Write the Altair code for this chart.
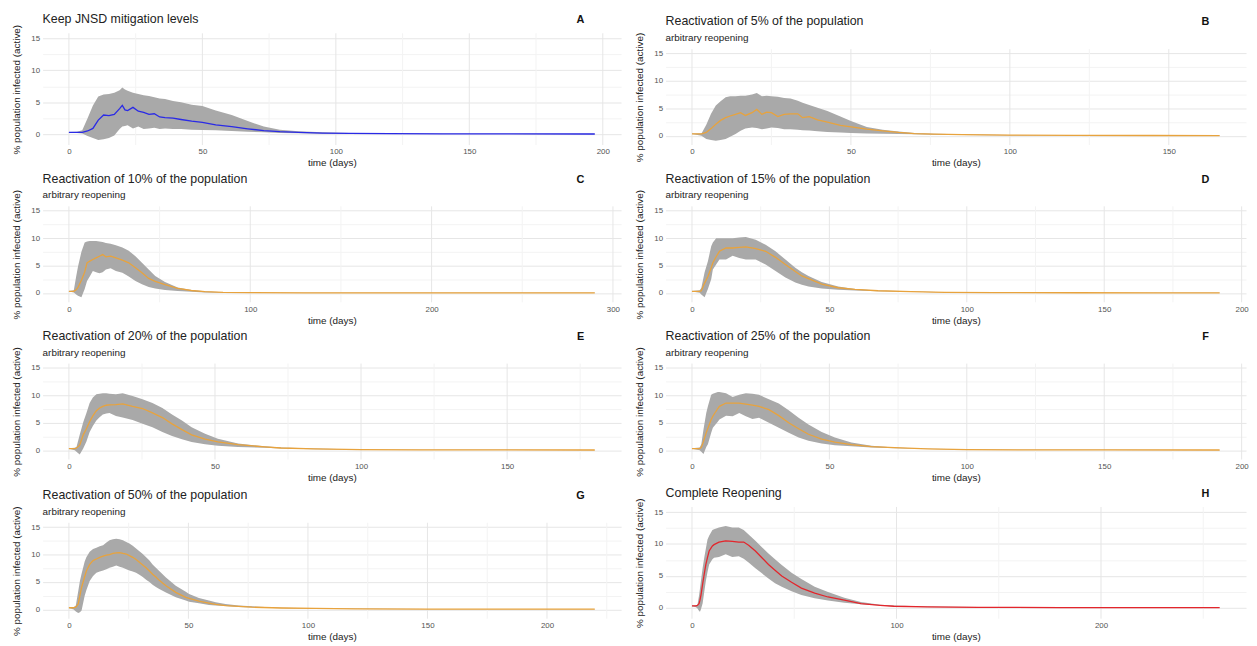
import altair as alt
import pandas as pd

# ---------------- data ----------------
# Panel A: Keep JNSD mitigation levels
a_t  = [0, 3, 5, 7, 9, 11, 13, 15, 17, 19, 20, 21, 22, 24, 26, 28, 30, 32, 34, 36, 39, 42, 46, 50, 55, 61, 67, 73, 79, 86, 95, 105, 120, 140, 170, 197]
a_lo = [0.25, 0.2, 0.1, -0.3, -0.6, -0.9, -0.8, -0.6, -0.2, 0.8, 1.2, 1.3, 1.4, 0.9, 1.2, 0.8, 0.9, 1.0, 0.8, 0.9, 0.8, 0.8, 0.7, 0.65, 0.6, 0.5, 0.4, 0.3, 0.2, 0.15, 0.08, 0.05, 0.03, 0.02, 0.01, 0.01]
a_m  = [0.3, 0.3, 0.3, 0.5, 0.9, 2.2, 3.0, 2.9, 3.1, 4.0, 4.5, 3.8, 3.7, 4.2, 3.6, 3.4, 3.1, 3.2, 2.7, 2.6, 2.5, 2.3, 2.05, 1.85, 1.45, 1.2, 0.85, 0.55, 0.4, 0.3, 0.18, 0.12, 0.08, 0.05, 0.04, 0.03]
a_hi = [0.35, 0.4, 0.6, 2.5, 4.5, 5.9, 6.2, 6.3, 6.5, 6.9, 7.3, 7.0, 6.8, 6.5, 6.3, 6.1, 6.0, 5.8, 5.6, 5.5, 5.2, 5.0, 4.6, 4.4, 3.7, 3.0, 2.05, 1.2, 0.7, 0.45, 0.3, 0.2, 0.12, 0.08, 0.06, 0.05]

# Panel B: 5%
b_t  = [0, 3, 4.5, 6, 7.5, 9, 10.6, 12, 13.7, 15.3, 16.8, 18.9, 20.4, 22, 23.5, 25, 27, 29, 31, 33.3, 34.8, 36.9, 39.5, 42.6, 46.7, 50, 55, 60, 65, 70, 76, 85, 100, 120, 145, 166]
b_lo = [0.3, 0.0, -0.6, -0.8, -0.9, -0.8, -0.6, -0.2, 0.3, 0.9, 1.3, 1.5, 1.4, 1.2, 1.3, 1.5, 1.4, 1.2, 1.2, 1.1, 1.0, 0.95, 0.8, 0.7, 0.6, 0.5, 0.4, 0.35, 0.3, 0.25, 0.18, 0.12, 0.06, 0.03, 0.02, 0.01]
b_m  = [0.35, 0.35, 0.6, 1.3, 2.1, 2.8, 3.3, 3.6, 3.9, 4.2, 3.7, 4.2, 4.8, 3.9, 4.3, 4.2, 3.5, 3.9, 4.0, 4.0, 3.3, 3.5, 2.9, 2.5, 1.9, 1.6, 1.2, 0.9, 0.6, 0.4, 0.3, 0.2, 0.1, 0.05, 0.04, 0.03]
b_hi = [0.4, 0.4, 2.0, 4.0, 5.5, 6.3, 7.0, 7.2, 7.2, 7.3, 7.3, 7.5, 7.8, 7.2, 7.3, 7.2, 7.1, 6.9, 6.8, 6.4, 6.0, 5.6, 5.1, 4.5, 3.5, 2.7, 1.6, 1.1, 0.75, 0.5, 0.35, 0.25, 0.14, 0.08, 0.06, 0.05]

# Panel C: 10%
c_t  = [0, 2.7, 4, 5, 6.9, 8.7, 10, 11.5, 13.2, 15, 16.8, 18.6, 20.4, 23, 25.9, 29.5, 33, 36.7, 40.3, 44, 47.6, 53, 60, 67.5, 75, 85, 100, 130, 180, 240, 290]
c_lo = [0.25, 0.1, -0.3, -0.5, -0.8, 0.7, 2.2, 3.0, 4.0, 3.8, 3.6, 3.8, 4.3, 4.5, 4.0, 3.7, 3.0, 2.2, 1.6, 1.1, 0.8, 0.55, 0.35, 0.2, 0.1, 0.05, 0.02, 0.01, 0.01, 0.0, 0.0]
c_m  = [0.3, 0.3, 0.6, 1.0, 2.3, 3.8, 5.5, 5.8, 6.1, 6.4, 6.7, 7.0, 6.6, 6.7, 6.4, 6.0, 5.5, 4.6, 3.7, 2.65, 2.1, 1.5, 0.85, 0.45, 0.25, 0.1, 0.05, 0.03, 0.02, 0.02, 0.01]
c_hi = [0.35, 0.5, 3.0, 4.8, 7.5, 9.2, 9.4, 9.5, 9.5, 9.5, 9.4, 9.3, 9.1, 9.0, 8.7, 8.3, 7.7, 6.7, 5.5, 4.3, 3.1, 2.0, 1.0, 0.55, 0.3, 0.15, 0.08, 0.05, 0.04, 0.03, 0.03]

# Panel D: 15%
d_t  = [0, 2.8, 3.4, 4.6, 5.8, 7, 7.6, 8.8, 10, 12.4, 14.8, 17.2, 19.6, 23.2, 26.8, 30.4, 34, 37.6, 40, 42.4, 47.2, 53.2, 59.3, 67.7, 79.7, 92, 110, 140, 170, 192]
d_lo = [0.25, 0.05, -0.3, -0.8, 0.7, 2.5, 4.3, 5.2, 6.1, 6.1, 6.8, 6.4, 6.1, 6.1, 5.2, 4.0, 2.8, 1.9, 1.5, 1.2, 0.8, 0.6, 0.45, 0.3, 0.2, 0.1, 0.04, 0.02, 0.01, 0.01]
d_m  = [0.3, 0.3, 0.4, 1.8, 3.0, 4.6, 5.5, 6.6, 7.6, 8.2, 8.2, 8.3, 8.4, 8.1, 7.6, 6.5, 5.2, 3.9, 3.1, 2.6, 1.6, 0.95, 0.65, 0.4, 0.25, 0.12, 0.06, 0.04, 0.03, 0.03]
d_hi = [0.35, 0.5, 0.9, 3.8, 5.8, 8.5, 9.2, 10.0, 10.0, 10.0, 10.0, 10.1, 10.2, 9.7, 8.8, 7.6, 6.1, 4.6, 3.8, 3.1, 2.0, 1.2, 0.7, 0.45, 0.3, 0.15, 0.09, 0.06, 0.05, 0.05]

# Panel E: 20%
e_t  = [0, 2, 2.6, 3.7, 4.9, 6, 7.1, 8.2, 9.4, 10.5, 11.6, 12.8, 13.9, 16.1, 18.4, 21.8, 25.2, 28.6, 32, 35.3, 38.7, 42, 46.6, 51, 57.9, 67, 72.6, 84, 100, 120, 150, 180]
e_lo = [0.25, 0.0, -0.3, -0.8, 0.3, 1.6, 3.3, 4.4, 5.4, 6.0, 6.5, 6.7, 6.8, 6.25, 5.95, 5.5, 4.8, 4.2, 3.3, 2.6, 2.0, 1.5, 1.1, 0.8, 0.6, 0.45, 0.3, 0.18, 0.06, 0.03, 0.02, 0.01]
e_m  = [0.3, 0.3, 0.4, 0.9, 2.8, 3.9, 5.2, 6.25, 7.2, 7.7, 8.0, 8.2, 8.25, 8.3, 8.45, 8.0, 7.6, 6.8, 5.95, 4.8, 3.75, 2.8, 2.0, 1.5, 1.0, 0.6, 0.4, 0.25, 0.1, 0.05, 0.04, 0.03]
e_hi = [0.35, 0.45, 0.6, 2.8, 5.1, 6.8, 8.6, 9.6, 10.2, 10.3, 10.4, 10.4, 10.3, 10.2, 10.4, 9.9, 9.3, 8.6, 7.7, 6.5, 5.4, 4.2, 3.0, 2.1, 1.2, 0.7, 0.5, 0.32, 0.14, 0.08, 0.06, 0.05]

# Panel F: 25%
f_t  = [0, 2.8, 3.4, 4.2, 5.2, 5.8, 7, 7.6, 9.4, 10, 12.4, 14.8, 17.2, 19.6, 22, 24.4, 28, 31.6, 35.2, 38.8, 42.4, 47.2, 52, 58, 65.3, 73.7, 85.7, 100, 120, 150, 192]
f_lo = [0.25, 0.0, -0.3, -0.7, 0.6, 1.1, 3.2, 4.1, 5.2, 5.6, 6.3, 6.2, 6.8, 6.2, 5.7, 5.9, 5.0, 4.1, 3.2, 2.3, 1.7, 1.2, 0.9, 0.7, 0.5, 0.35, 0.2, 0.08, 0.04, 0.02, 0.01]
f_m  = [0.3, 0.3, 0.5, 1.6, 3.2, 4.0, 5.6, 6.2, 7.6, 8.0, 8.6, 8.6, 8.6, 8.4, 8.2, 8.0, 7.4, 6.3, 5.0, 3.9, 2.9, 2.0, 1.45, 1.0, 0.65, 0.45, 0.25, 0.12, 0.06, 0.04, 0.03]
f_hi = [0.35, 0.5, 1.1, 3.8, 6.8, 8.0, 10.1, 10.3, 10.6, 10.6, 10.4, 9.7, 10.1, 10.4, 10.3, 10.1, 9.3, 8.5, 7.3, 5.9, 4.7, 3.3, 2.3, 1.4, 0.8, 0.5, 0.28, 0.15, 0.08, 0.06, 0.05]

# Panel G: 50%
g_t  = [0, 2, 2.9, 3.9, 4.6, 5.3, 6.6, 7.3, 8.7, 10.1, 11.5, 12.9, 14.3, 15.7, 17, 18.4, 19.8, 21.2, 22.6, 24, 25.3, 26.7, 28.1, 29.5, 30.9, 32.3, 33.7, 35, 36.4, 37.8, 40.6, 44.7, 48.9, 50.3, 54.4, 58.6, 61.4, 65.5, 71, 76.6, 89, 103, 120, 150, 185, 220]
g_lo = [0.25, 0.0, -0.4, -0.65, -0.5, -0.2, 2.5, 3.5, 5.2, 6.1, 6.7, 6.9, 7.1, 7.3, 7.6, 7.8, 8.0, 7.8, 7.6, 7.3, 7.1, 6.9, 6.7, 6.3, 5.9, 5.4, 5.0, 4.5, 4.1, 3.7, 3.1, 2.2, 1.6, 1.4, 1.1, 0.8, 0.7, 0.6, 0.45, 0.35, 0.2, 0.12, 0.06, 0.03, 0.02, 0.01]
g_m  = [0.3, 0.3, 0.4, 1.0, 2.5, 4.0, 6.0, 7.0, 8.2, 8.9, 9.2, 9.5, 9.7, 9.9, 10.0, 10.2, 10.3, 10.35, 10.2, 10.1, 9.8, 9.5, 9.1, 8.6, 8.1, 7.6, 7.0, 6.4, 5.9, 5.3, 4.3, 3.1, 2.2, 2.0, 1.5, 1.15, 0.9, 0.7, 0.55, 0.4, 0.25, 0.18, 0.1, 0.05, 0.04, 0.03]
g_hi = [0.35, 0.4, 0.7, 3.3, 5.2, 6.5, 8.75, 9.5, 10.5, 11.0, 11.25, 11.5, 11.7, 12.2, 12.6, 12.8, 12.9, 12.8, 12.6, 12.3, 12.0, 11.6, 11.1, 10.6, 10.1, 9.5, 8.9, 8.2, 7.6, 7.0, 5.8, 4.3, 3.2, 2.8, 2.1, 1.6, 1.3, 1.0, 0.7, 0.55, 0.32, 0.22, 0.14, 0.08, 0.06, 0.05]

# Panel H: complete reopening
h_t  = [0, 2, 2.7, 3.5, 3.9, 4.4, 5.2, 6, 6.8, 7.6, 8.4, 10, 10.8, 13.2, 16.5, 19.7, 22.9, 25.3, 27.7, 31, 34.2, 37.4, 40.6, 43.9, 48.7, 53.5, 60, 66.5, 74.5, 82.6, 92, 98.7, 115, 140, 180, 220, 258]
h_lo = [0.25, 0.1, -0.1, -0.5, -0.6, -0.2, 0.7, 2.5, 4.25, 5.6, 6.8, 7.6, 7.85, 7.95, 8.4, 7.95, 8.1, 7.7, 7.1, 6.2, 5.4, 4.6, 3.85, 3.3, 2.6, 2.0, 1.5, 1.15, 0.8, 0.55, 0.35, 0.2, 0.1, 0.05, 0.02, 0.02, 0.01]
h_m  = [0.3, 0.3, 0.4, 0.7, 1.2, 2.0, 3.7, 5.3, 6.8, 7.9, 8.9, 9.7, 9.9, 10.3, 10.5, 10.4, 10.3, 10.3, 9.8, 8.9, 7.85, 6.8, 5.9, 5.0, 4.0, 3.1, 2.3, 1.7, 1.2, 0.65, 0.4, 0.25, 0.15, 0.08, 0.05, 0.04, 0.03]
h_hi = [0.35, 0.4, 0.5, 2.0, 3.0, 4.25, 6.2, 7.85, 9.3, 10.7, 11.3, 12.2, 12.3, 12.6, 12.8, 12.6, 12.6, 12.2, 11.5, 10.5, 9.5, 8.5, 7.6, 6.7, 5.5, 4.5, 3.3, 2.5, 1.6, 0.9, 0.5, 0.35, 0.2, 0.12, 0.08, 0.07, 0.05]

titles = [
    "Keep JNSD mitigation levels",
    "Reactivation of 5% of the population",
    "Reactivation of 10% of the population",
    "Reactivation of 15% of the population",
    "Reactivation of 20% of the population",
    "Reactivation of 25% of the population",
    "Reactivation of 50% of the population",
    "Complete Reopening",
]
subtitles = ["", "arbitrary reopening", "arbitrary reopening", "arbitrary reopening",
             "arbitrary reopening", "arbitrary reopening", "arbitrary reopening", ""]
letters = ["A", "B", "C", "D", "E", "F", "G", "H"]
line_colors = ["#2a2ae6", "#e8a33d", "#e8a33d", "#e8a33d", "#e8a33d", "#e8a33d", "#e8a33d", "#e3262c"]
# x tick steps: (minor step, major step, max tick)
x_steps = [(25, 50, 200), (25, 50, 150), (50, 100, 300), (25, 50, 200),
           (25, 50, 175), (25, 50, 200), (25, 50, 225), (50, 100, 250)]
y_values = [0, 2.5, 5, 7.5, 10, 12.5, 15]

series = [
    (a_t, a_lo, a_m, a_hi), (b_t, b_lo, b_m, b_hi), (c_t, c_lo, c_m, c_hi), (d_t, d_lo, d_m, d_hi),
    (e_t, e_lo, e_m, e_hi), (f_t, f_lo, f_m, f_hi), (g_t, g_lo, g_m, g_hi), (h_t, h_lo, h_m, h_hi),
]

FONT = "Liberation Sans"
TXT = "#222222"
GRID_MAJOR, GRID_MINOR = "#e6e6e6", "#f3f3f3"
Y_DOMAIN = [-1.7, 15.8]
LEFT_W, RIGHT_W = 585, 587
PANEL_H = 113      # whole panel height
SUB_GAP = 16       # extra room taken by the subtitle above the plot


def panel(i):
    t, lo, m, hi = series[i]
    df = pd.DataFrame({"t": t, "lo": lo, "m": m, "hi": hi})
    tmax = max(t)
    xdom = [-0.05 * tmax, 1.05 * tmax]
    minor, major, top = x_steps[i]
    xvals = [v for v in range(0, top + 1, minor) if v <= xdom[1]]
    w = LEFT_W if i % 2 == 0 else RIGHT_W
    has_sub = subtitles[i] != ""
    y_top = SUB_GAP if has_sub else 0

    x_axis = alt.Axis(
        title="time (days)", values=xvals, tickCount=40, format="d",
        labelExpr=f"datum.value % {major} == 0 ? datum.label : ''",
        grid=False, domain=False, ticks=False, labelPadding=3, titlePadding=2, labelOverlap=False,
    )
    y_axis = alt.Axis(
        title="% population infected (active)", values=y_values, tickCount=40, format="~f",
        labelExpr="datum.value % 5 == 0 ? datum.label : ''",
        gridColor={"condition": {"test": "datum.value % 5 == 0", "value": GRID_MAJOR}, "value": GRID_MINOR},
        domain=False, ticks=False, labelPadding=3, titlePadding=9, labelOverlap=False,
    )
    xs = alt.Scale(domain=xdom, nice=False, zero=False)
    ys = alt.Scale(domain=Y_DOMAIN, nice=False, zero=False, range=[PANEL_H, y_top])

    # vertical grid lines, spanning the plotted y range only
    gdf = pd.DataFrame({
        "xg": xvals,
        "major": [v % major == 0 for v in xvals],
        "ylo": [Y_DOMAIN[0]] * len(xvals),
        "yhi": [Y_DOMAIN[1]] * len(xvals),
    })
    grid = alt.Chart(gdf).mark_rule(strokeWidth=1).encode(
        x=alt.X("xg:Q", scale=xs, axis=x_axis),
        y=alt.Y("ylo:Q", scale=ys, axis=y_axis),
        y2="yhi:Q",
        color=alt.Color("major:N", scale=alt.Scale(domain=[True, False], range=[GRID_MAJOR, GRID_MINOR]), legend=None),
    )

    base = alt.Chart(df)
    band = base.mark_area(color="#a9a9a9", opacity=1).encode(
        x=alt.X("t:Q", scale=xs, axis=x_axis),
        y=alt.Y("lo:Q", scale=ys, axis=y_axis),
        y2="hi:Q",
    )
    line = base.mark_line(color=line_colors[i], strokeWidth=1.3).encode(
        x=alt.X("t:Q", scale=xs, axis=x_axis), y=alt.Y("m:Q", scale=ys, axis=y_axis)
    )
    title_y = -8 if has_sub else -10
    txt = pd.DataFrame({"title": [titles[i]], "sub": [subtitles[i]], "lab": [letters[i]]})
    tbase = alt.Chart(txt)
    title_mark = tbase.mark_text(
        font=FONT, fontSize=12.5, align="left", baseline="alphabetic", color=TXT
    ).encode(x=alt.value(0), y=alt.value(title_y), text="title:N")
    lab = tbase.mark_text(
        font=FONT, fontWeight="bold", fontSize=11, align="center", baseline="alphabetic", color="#111111"
    ).encode(x=alt.value(w - 41), y=alt.value(title_y), text="lab:N")
    layers = [grid, band, line, title_mark, lab]
    if has_sub:
        sub_mark = tbase.mark_text(
            font=FONT, fontSize=10, align="left", baseline="alphabetic", color=TXT
        ).encode(x=alt.value(0), y=alt.value(8), text="sub:N")
        layers.append(sub_mark)
    return alt.layer(*layers).properties(width=w, height=PANEL_H)


chart = alt.concat(
    *[panel(i) for i in range(8)], columns=2,
    spacing={"row": 5, "column": 14},
).properties(
    padding={"left": 4, "top": 2, "right": 0, "bottom": 0}
).configure_view(stroke=None).configure_axis(
    labelFont=FONT, titleFont=FONT, labelFontSize=8, titleFontSize=10,
    labelColor="#555555", titleColor=TXT, titleFontWeight="normal",
)

chart.save("out.html", embed_options={"renderer": "svg", "actions": False})
